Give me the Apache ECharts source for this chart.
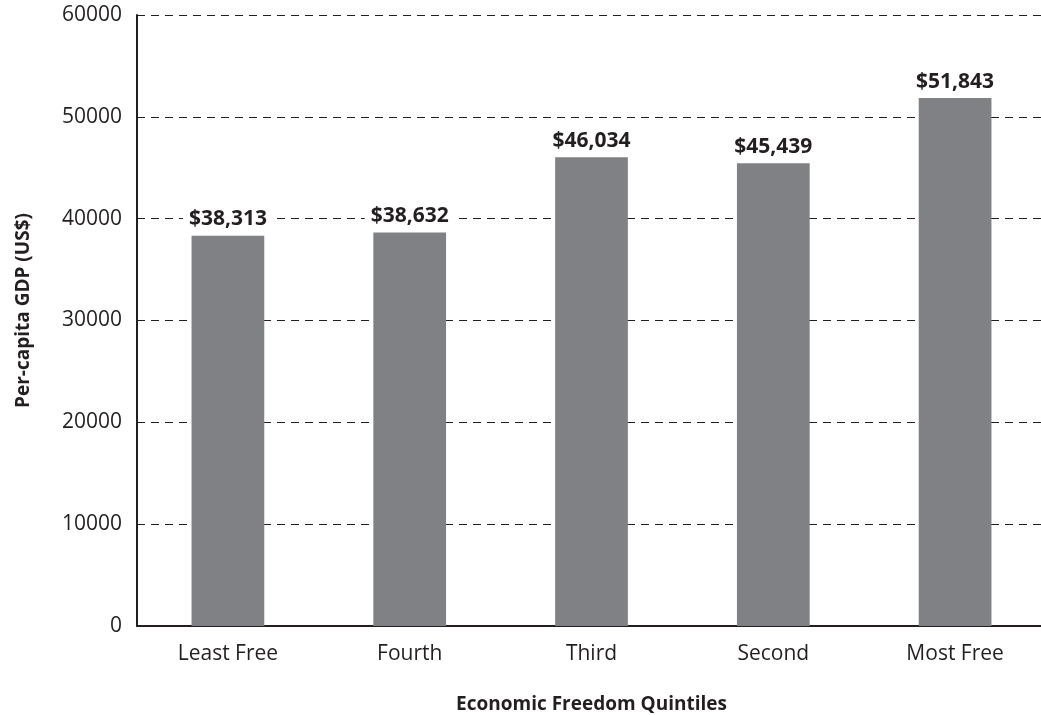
<!DOCTYPE html>
<html>
<head>
<meta charset="utf-8">
<script src="https://cdn.jsdelivr.net/npm/echarts@6/dist/echarts.min.js"></script>
<style>
  html, body { margin: 0; padding: 0; background: #fff; }
  #chart { width: 1041px; height: 715px; }
</style>
</head>
<body>
<div id="chart"></div>
<script>
const quintiles = ['Least Free', 'Fourth', 'Third', 'Second', 'Most Free'];
const gdpPerCapita = [38313, 38632, 46034, 45439, 51843];
const yTicks = [0, 10000, 20000, 30000, 40000, 50000, 60000];

const fontName = 'Open Sans';
const ink = '#231f20';
const chart = echarts.init(document.getElementById('chart'));

const option = {
    backgroundColor: '#fff',
    animation: false,
    grid: {
        left: 137,
        right: -5,
        top: 15,
        bottom: 89,
        containLabel: false,
        outerBoundsMode: 'none'
    },
    xAxis: {
        type: 'category',
        data: quintiles,
        name: 'Economic Freedom Quintiles',
        nameLocation: 'middle',
        nameGap: 69,
        nameTextStyle: { fontFamily: fontName, fontWeight: 'bold', fontSize: 19, color: ink },
        axisLine: { lineStyle: { color: ink, width: 2 } },
        axisTick: { show: false },
        axisLabel: { fontFamily: fontName, fontSize: 21, color: ink, margin: 18 }
    },
    yAxis: {
        type: 'value',
        min: yTicks[0],
        max: yTicks[yTicks.length - 1],
        interval: 10000,
        name: 'Per-capita GDP (US$)',
        nameLocation: 'middle',
        nameGap: 104,
        nameTextStyle: { fontFamily: fontName, fontWeight: 'bold', fontSize: 19, color: ink, padding: [0, 0, 0, 20] },
        axisLine: { show: true, lineStyle: { color: ink, width: 2 } },
        axisTick: { show: false },
        axisLabel: { fontFamily: fontName, fontSize: 21, color: ink, margin: 15, formatter: v => String(v) },
        splitLine: { lineStyle: { color: ink, type: [8, 6], width: 1 } }
    },
    series: [{
        type: 'bar',
        data: gdpPerCapita,
        barWidth: '40%',
        itemStyle: { color: '#808184' },
        label: {
            show: true,
            position: 'top',
            distance: 6,
            fontFamily: fontName,
            fontWeight: 'bold',
            fontSize: 21,
            color: ink,
            backgroundColor: '#fff',
            padding: [0, 6],
            formatter: p => '$' + p.value.toLocaleString('en-US')
        }
    }]
};

chart.setOption(option);
</script>
</body>
</html>
